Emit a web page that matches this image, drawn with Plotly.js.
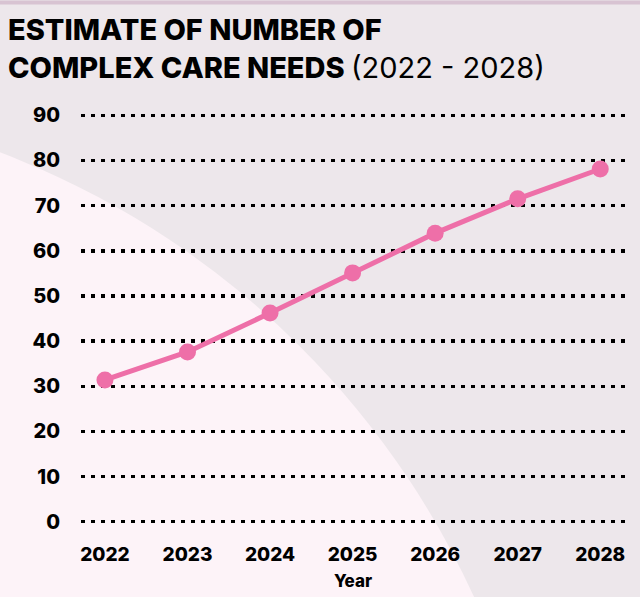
<!DOCTYPE html>
<html>
<head>
<meta charset="utf-8">
<script src="https://cdn.plot.ly/plotly-3.0.1.min.js"></script>
<style>
html,body{margin:0;padding:0;background:#ede7eb;}
#chart{width:640px;height:597px;}
</style>
</head>
<body>
<div id="chart"></div>
<script>
const years = [2022, 2023, 2024, 2025, 2026, 2027, 2028];
const estimates = [31.4, 37.6, 46.2, 55.1, 63.9, 71.5, 78.1];
const yTicks = [0, 10, 20, 30, 40, 50, 60, 70, 80, 90];
const xTickLabels = ['2022', '2023', '2024', '2025', '2026', '2027', '2028'];

const W = 640, H = 597;
const L = 81, R = 625, T = 112.7, B = 524.3;
const pw = R - L, ph = B - T;
function px2x(p){ return (p - L) / pw; }
function py2y(p){ return (B - p) / ph; }

// big pale circle in bottom-left
const cx = -305.8, cy = 952.7, rad = 857;

const trace = {
  x: years,
  y: estimates,
  type: 'scatter',
  mode: 'lines+markers',
  line: {color: '#ee6fa8', width: 5},
  marker: {color: '#ee6fa8', size: 17},
  cliponaxis: false,
  hoverinfo: 'skip'
};

const layout = {
  width: W, height: H,
  paper_bgcolor: '#ede7eb',
  plot_bgcolor: 'rgba(0,0,0,0)',
  margin: {l: L, r: W - R, t: T, b: H - B, pad: 0},
  showlegend: false,
  title: {
    text: 'ESTIMATE OF NUMBER OF<br>COMPLEX CARE NEEDS <span style="font-weight:400">(2022 - 2028)</span>',
    font: {family: 'Inter, sans-serif', size: 29, weight: 800, color: '#000'},
    xref: 'container', yref: 'container',
    x: 8 / W, xanchor: 'left',
    y: 1 - 40 / H, yanchor: 'top'
  },
  xaxis: {
    range: [2021.71, 2028.30],
    tickvals: years,
    ticktext: xTickLabels,
    showgrid: false, zeroline: false, showline: false,
    ticks: '',
    ticklabelstandoff: 17,
    tickfont: {family: 'Inter, sans-serif', size: 19, weight: 800, color: '#000'},
    title: {text: 'Year', standoff: 10, font: {family: 'Inter, sans-serif', size: 17, weight: 800, color: '#000'}}
  },
  yaxis: {
    range: [-0.5, 90.5],
    tickvals: yTicks,
    showgrid: true,
    gridcolor: '#000',
    gridwidth: 3.5,
    griddash: '3.5px,6.5px',
    zeroline: false, showline: false,
    ticks: '',
    ticklabelstandoff: 20,
    tickfont: {family: 'Inter, sans-serif', size: 20, weight: 800, color: '#000'}
  },
  shapes: [
    {
      type: 'circle', xref: 'paper', yref: 'paper', layer: 'below',
      x0: px2x(cx - rad), x1: px2x(cx + rad),
      y0: py2y(cy + rad), y1: py2y(cy - rad),
      fillcolor: '#fdf3f8', line: {width: 0}
    },
    {
      type: 'rect', xref: 'paper', yref: 'paper', layer: 'below',
      x0: px2x(0), x1: px2x(W), y0: py2y(4), y1: py2y(0),
      fillcolor: '#d8c3d2', line: {width: 0}
    }
  ]
};

Plotly.newPlot('chart', [trace], layout, {displayModeBar: false, staticPlot: true});
</script>
</body>
</html>
